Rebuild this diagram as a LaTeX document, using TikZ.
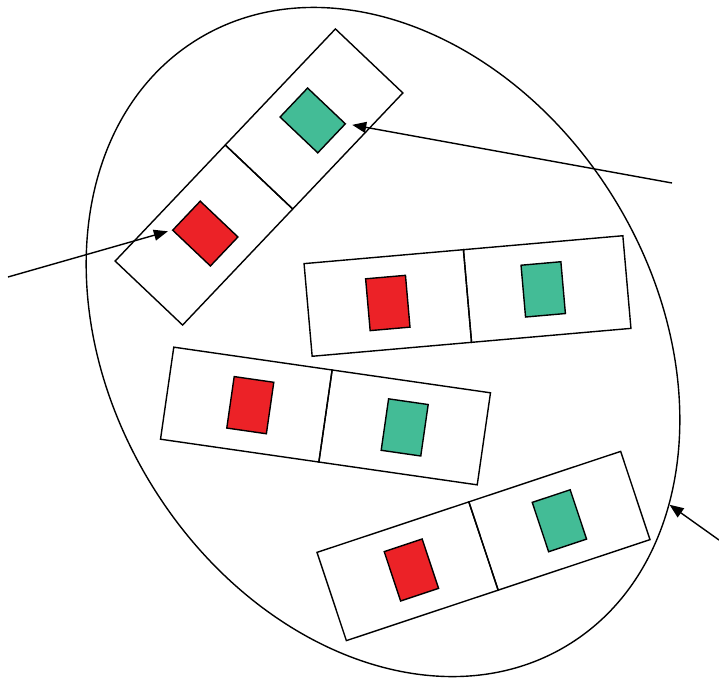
\documentclass[tikz,border=0pt]{standalone}
\usetikzlibrary{arrows.meta,shapes.geometric}
\definecolor{boxred}{RGB}{236,34,39}
\definecolor{boxgreen}{RGB}{67,188,150}
\tikzset{
  cell/.style={draw, minimum width=160pt, minimum height=93pt, inner sep=0pt},
  redbox/.style={draw, fill=boxred, minimum width=40pt, minimum height=52pt, inner sep=0pt},
  greenbox/.style={redbox, fill=boxgreen},
  pointer/.style={-{Triangle[length=14pt,width=11pt]}}
}
\begin{document}
\begin{tikzpicture}[x=1pt,y=-1pt,line width=1.4pt]
  \useasboundingbox (0,0) rectangle (719,680);
  \node[ellipse, draw, minimum width=710pt, minimum height=544pt, inner sep=0pt, rotate=-58.6] (blob) at (383,342) {};

  \foreach \n/\x/\y/\a/\r/\g in {A/259/177/46.5/-78/78, B/467.5/296/5/-80/76, C/325.5/416/-8.2/-76/80, D/483.5/546/18.4/-76/80}
  {
    \begin{scope}[shift={(\x,\y)}, rotate=\a, transform shape]
      \node[cell] (left\n) at (-80,0) {};
      \node[cell] (right\n) at (80,0) {};
      \node[redbox] (red\n) at (\r,0) {};
      \node[greenbox] (green\n) at (\g,0) {};
    \end{scope}
  }

  \coordinate (inA) at (8,277);
  \coordinate (inB) at (672,183);
  \coordinate (inC) at (719,540);
  \draw[pointer, shorten >=4pt] (inA) -- (redA.north west);
  \draw[pointer, shorten >=6pt] (inB) -- (greenA.south east);
  \draw[pointer] (inC) -- (blob.29);
\end{tikzpicture}
\end{document}
